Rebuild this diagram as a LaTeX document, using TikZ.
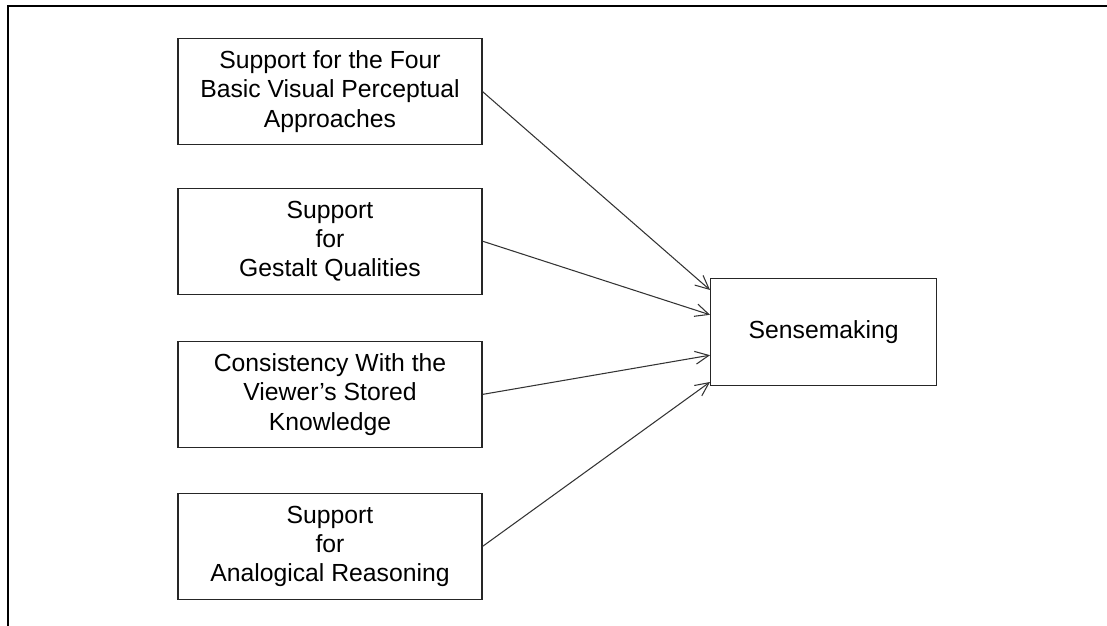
\documentclass[tikz,border=0pt]{standalone}
\usepackage{fontspec}
\setmainfont{Liberation Sans}
\usetikzlibrary{arrows.meta}
\begin{document}
\begin{tikzpicture}[>={Straight Barb[length=3.4mm,width=3.2mm]},
  factor/.style={draw=black!85,line width=0.8pt,minimum width=7.6cm,minimum height=2.65cm,align=center,inner sep=2pt,font=\fontsize{17.6pt}{20.8pt}\selectfont},
  link/.style={->,draw=black!80,line width=0.75pt}]
\useasboundingbox (0,0) rectangle (27.675,-15.65);
% frame
\draw[line width=1.7pt] (0.2,-15.65)--(0.2,-0.15)--(27.675,-0.15);
\foreach \n/\y/\t in {one/-2.29/{Support for the Four\\Basic Visual Perceptual\\Approaches},two/-6.03/{Support\\for\\Gestalt Qualities},three/-9.86/{Consistency With the\\Viewer's Stored\\Knowledge},four/-13.66/{Support\\for\\Analogical Reasoning}}
{
    \node[factor] (\n) at (8.25,\y) {\t};
}
\node[factor,minimum width=5.65cm,minimum height=2.68cm] (sense) at (20.59,-8.3) {Sensemaking};
\draw[link] (one.east)--([yshift=1.05cm]sense.west);
\draw[link] (two.east)--([yshift=0.43cm]sense.west);
\draw[link] (three.east)--([yshift=-0.58cm]sense.west);
\draw[link] (four.east)--([yshift=-1.25cm]sense.west);
\end{tikzpicture}
\end{document}
